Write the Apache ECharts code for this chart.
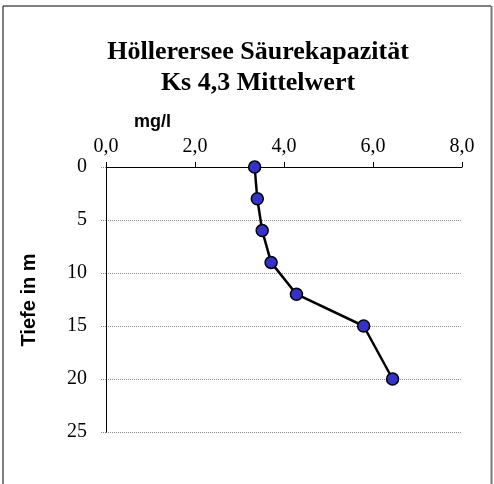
<!DOCTYPE html>
<html>
<head>
<meta charset="utf-8">
<script src="https://cdn.jsdelivr.net/npm/echarts@6/dist/echarts.min.js"></script>
<style>html,body{margin:0;padding:0;background:#fff;}#c{width:494px;height:484px;}</style>
</head>
<body>
<div id="c"></div>
<script>
var titleLines = ['Höllerersee Säurekapazität', 'Ks 4,3 Mittelwert'];
var xAxisName = 'mg/l';
var yAxisName = 'Tiefe in m';
var depths = [0, 3, 6, 9, 12, 15, 20];
var values = [3.34, 3.40, 3.51, 3.71, 4.28, 5.79, 6.44];
var xTicks = [0, 2, 4, 6, 8];
var yTicks = [0, 5, 10, 15, 20, 25];

var chart = echarts.init(document.getElementById('c'), null, {renderer: 'canvas'});
var pts = values.map(function (v, i) { return [v, depths[i]]; });
var serif = '"Liberation Serif", "Times New Roman", serif';
var sans = '"Liberation Sans", Arial, sans-serif';

chart.setOption({
  animation: false,
  backgroundColor: '#fff',
  title: {
    text: titleLines.join('\n'),
    left: 253, top: 32, textAlign: 'center',
    textStyle: {fontFamily: serif, fontWeight: 'bold', fontSize: 26, lineHeight: 31, color: '#000'}
  },
  grid: {left: 106, right: 32, top: 167, bottom: 52},
  xAxis: {
    type: 'value', position: 'top',
    min: xTicks[0], max: xTicks[xTicks.length - 1], interval: 2,
    axisLine: {show: true, lineStyle: {color: '#000', width: 1}},
    axisTick: {show: true, inside: false, length: 5, lineStyle: {color: '#000'}},
    splitLine: {show: false},
    axisLabel: {margin: 10, fontFamily: serif, fontSize: 20, color: '#000',
      formatter: function (v) { return v.toFixed(1).replace('.', ','); }}
  },
  yAxis: {
    type: 'value', inverse: true,
    min: yTicks[0], max: yTicks[yTicks.length - 1], interval: 5,
    axisLine: {show: true, lineStyle: {color: '#000', width: 1}},
    axisTick: {show: true, length: 6, lineStyle: {color: '#888', type: 'dotted'}},
    splitLine: {show: true, lineStyle: {color: '#888', type: 'dotted', width: 1}},
    axisLabel: {margin: 19, fontFamily: serif, fontSize: 20, color: '#000'}
  },
  graphic: [
    {type: 'line', shape: {x1: 3, y1: 6, x2: 491, y2: 6}, style: {stroke: '#000', lineWidth: 1}},
    {type: 'line', shape: {x1: 3, y1: 6, x2: 3, y2: 484}, style: {stroke: '#000', lineWidth: 1}},
    {type: 'line', shape: {x1: 491.5, y1: 6, x2: 491.5, y2: 484}, style: {stroke: '#777', lineWidth: 2}},
    {type: 'text', left: 134, top: 113, style: {text: xAxisName, fontFamily: sans, fontWeight: 'bold', fontSize: 18, fill: '#000'}},
    {type: 'text', x: 29, y: 300, rotation: Math.PI / 2,
      style: {text: yAxisName, fontFamily: sans, fontWeight: 'bold', fontSize: 20, fill: '#000', align: 'center', verticalAlign: 'middle'}}
  ],
  series: [{
    type: 'line', data: pts,
    lineStyle: {color: '#000', width: 2.5},
    symbol: 'circle', symbolSize: 12,
    itemStyle: {color: '#3333cc', borderColor: '#000', borderWidth: 1.5}
  }]
});
</script>
</body>
</html>
